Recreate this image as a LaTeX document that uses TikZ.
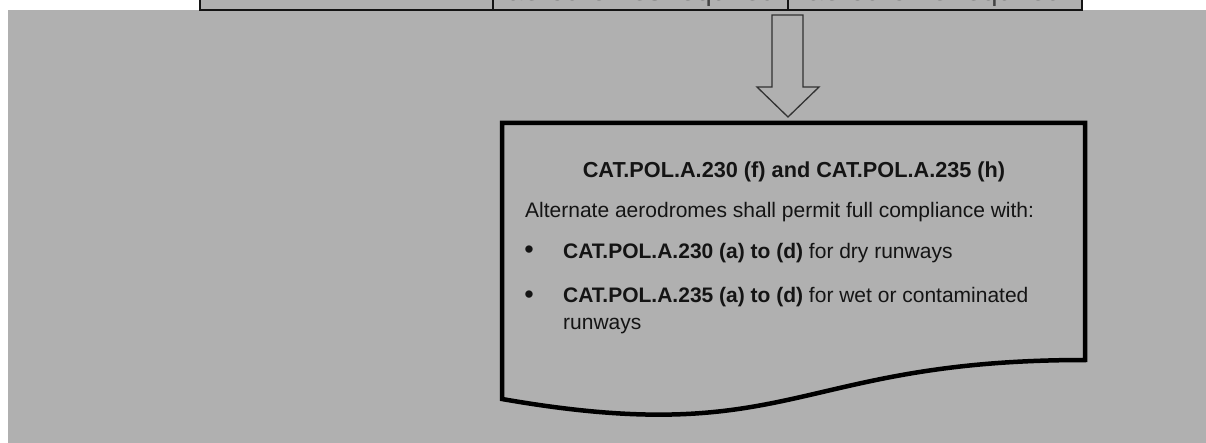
\documentclass[tikz,border=0pt]{standalone}
\usepackage{fontspec}
\setmainfont{Liberation Sans}
\definecolor{bggray}{RGB}{176,176,176}
\definecolor{ink}{RGB}{20,20,20}
\definecolor{arrowline}{RGB}{50,50,50}
\begin{document}
\begin{tikzpicture}[x=1pt,y=-1pt,
  cell/.style={draw=ink,line width=1.4pt,fill=bggray},
  celltext/.style={anchor=base,font=\fontsize{29}{34}\selectfont,text=ink!80,inner sep=0pt},
  bodytext/.style={anchor=base west,font=\fontsize{21}{27}\selectfont,text=ink,inner sep=0pt},
  bullettext/.style={anchor=base,font=\fontsize{27}{27}\selectfont,text=ink,inner sep=0pt},
  docshape/.style={draw=black,line width=4.5pt,line join=miter},
  blockarrow/.style={draw=arrowline,line width=1.3pt,line join=miter}]
\useasboundingbox (0,0) rectangle (1206,443);
\fill[white] (0,0) rectangle (1206,443);
% gray background panel
\fill[bggray] (8,10) rectangle (1206,443);
% table row (cut off at the top)
\draw[cell] (200,-40) rectangle (493,10);
\draw[cell] (493,-40) rectangle (788,10);
\draw[cell] (788,-40) rectangle (1082,10);
\node[celltext] (c2) at (642,1) {aerodromes required};
\node[celltext] (c3) at (935,1) {aerodrome required};
% block arrow
\draw[blockarrow] (772,15) -- (803,15) -- (803,87) -- (819,87) -- (788,117) -- (757,87) -- (772,87) -- cycle;
% document shape
\draw[docshape] (502,399) -- (502,123) -- (1085,123) -- (1085,360)
  .. controls (793.5,360) and (793.5,450) .. (502,399) -- cycle;
% texts
\node[anchor=base,font=\fontsize{21.7}{27}\selectfont\bfseries,text=ink,inner sep=0pt] (title) at (794,177.5)
  {CAT.POL.A.230 (f) and CAT.POL.A.235 (h)};
\node[bodytext] (intro) at (525,217.5) {Alternate aerodromes shall permit full compliance with:};
\node[bullettext] (b1) at (529,259) {•};
\node[bodytext] (t1) at (563,258.5) {\textbf{CAT.POL.A.230 (a) to (d)} for dry runways};
\node[bullettext] (b2) at (529,303) {•};
\node[bodytext] (t2) at (563,302.5) {\textbf{CAT.POL.A.235 (a) to (d)} for wet or contaminated};
\node[bodytext] (t2b) at (563,329.5) {runways};
\end{tikzpicture}
\end{document}
